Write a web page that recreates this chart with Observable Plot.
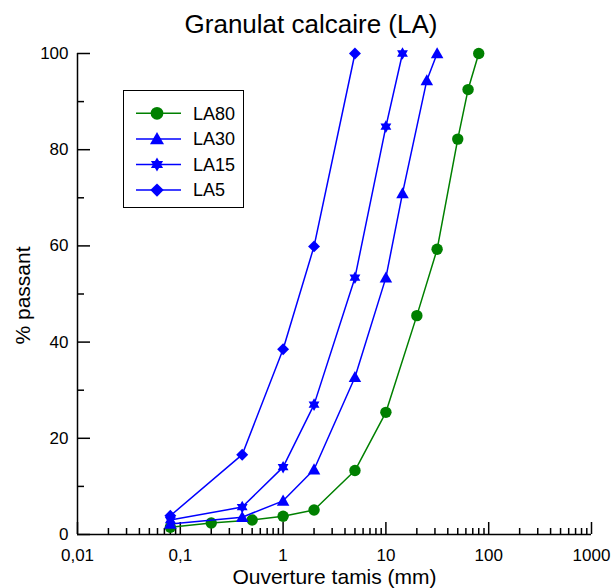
<!DOCTYPE html>
<html><head><meta charset="utf-8">
<script src="https://cdn.jsdelivr.net/npm/d3@7"></script>
<script src="https://cdn.jsdelivr.net/npm/@observablehq/plot@0.6"></script>
<style>
body{margin:0;background:#fff;}
#wrap{position:relative;width:613px;height:588px;}
#legend{position:absolute;left:123px;top:90px;}
</style></head><body><div id="wrap"></div>
<script>
const chartTitle = "Granulat calcaire (LA)";
const xLabel = "Ouverture tamis (mm)";
const yLabel = "% passant";
const seriesNames = ["LA80", "LA30", "LA15", "LA5"];
const seriesColors = ["#008000", "#0000ff", "#0000ff", "#0000ff"];
const la80Sieve = [0.08, 0.2, 0.5, 1, 2, 5, 10, 20, 31.5, 50, 63, 80];
const la80Pass  = [1.5, 2.4, 3.0, 3.8, 5.1, 13.3, 25.4, 45.5, 59.3, 82.2, 92.5, 100];
const la30Sieve = [0.08, 0.4, 1, 2, 5, 10, 14.5, 25, 31.5];
const la30Pass  = [2.2, 3.6, 7.0, 13.5, 32.7, 53.4, 70.9, 94.4, 100];
const la15Sieve = [0.08, 0.4, 1, 2, 5, 10, 14.5];
const la15Pass  = [3.0, 5.7, 14.0, 27.0, 53.4, 84.8, 100];
const la5Sieve  = [0.08, 0.4, 1, 2, 5];
const la5Pass   = [3.9, 16.6, 38.5, 59.9, 100];
const xMajorTicks = [0.01, 0.1, 1, 10, 100, 1000];
const yMajorTicks = [0, 20, 40, 60, 80, 100];
const yMinorTicks = [10, 30, 50, 70, 90];

const xMinorTicks = xMajorTicks.slice(0, -1).flatMap(d => d3.range(2, 10).map(k => +(k * d).toPrecision(3)));
const sieves = [la80Sieve, la30Sieve, la15Sieve, la5Sieve];
const passes = [la80Pass, la30Pass, la15Pass, la5Pass];
const rows = seriesNames.flatMap((s, i) => sieves[i].map((x, j) => ({series: s, sieve: x, pass: passes[i][j]})));

const rad = s => Math.sqrt(s / Math.PI);
const symCircle = {draw(c, s) { const r = rad(s); c.moveTo(r, 0); c.arc(0, 0, r, 0, 2 * Math.PI); }};
const symTriangle = {draw(c, s) { const r = rad(s); c.moveTo(0, -r * 1.1); c.lineTo(r * 1.1, r * 0.85); c.lineTo(-r * 1.1, r * 0.85); c.closePath(); }};
const symHexagram = {draw(c, s) { const R = rad(s) * 1.1, a = R * 0.866, b = R * 0.5;
  c.moveTo(0, -R); c.lineTo(a, b); c.lineTo(-a, b); c.closePath();
  c.moveTo(0, R); c.lineTo(-a, -b); c.lineTo(a, -b); c.closePath(); }};
const symDiamond = {draw(c, s) { const d = rad(s) * 1.05; c.moveTo(0, -d); c.lineTo(d, 0); c.lineTo(0, d); c.lineTo(-d, 0); c.closePath(); }};
const seriesSymbols = [symCircle, symTriangle, symHexagram, symDiamond];
const R = 5.7;

const dataMarks = seriesNames.flatMap((name, i) => [
  Plot.line(rows, {filter: d => d.series === name, x: "sieve", y: "pass", stroke: seriesColors[i], strokeWidth: 1.5}),
  Plot.dot(rows, {filter: d => d.series === name, x: "sieve", y: "pass", fill: seriesColors[i], stroke: "none", r: R, symbol: seriesSymbols[i]})
]);

const chart = Plot.plot({
  width: 613, height: 588,
  marginTop: 53, marginRight: 22, marginBottom: 54, marginLeft: 77,
  style: {fontFamily: "'Liberation Sans', Arial, sans-serif", fontSize: "17px", background: "white", color: "black"},
  x: {type: "log", domain: [0.01, 1000]},
  y: {domain: [0, 100]},
  marks: [
    Plot.axisX({ticks: xMajorTicks, tickSize: -12, fill: "none", strokeWidth: 1.5, label: null}),
    Plot.axisX({ticks: xMinorTicks, tickSize: -6, fill: "none", strokeWidth: 1.5, label: null}),
    Plot.axisX({ticks: xMajorTicks, tickSize: 0, tickPadding: 14, stroke: "none", label: null, tickFormat: d => String(d).replace(".", ",")}),
    Plot.axisY({ticks: yMajorTicks, tickSize: -13, fill: "none", strokeWidth: 1.5, label: null}),
    Plot.axisY({ticks: yMinorTicks, tickSize: -7, fill: "none", strokeWidth: 1.5, label: null}),
    Plot.axisY({ticks: yMajorTicks, tickSize: 0, tickPadding: 9, stroke: "none", label: null}),
    Plot.ruleY([0], {strokeWidth: 1.5}),
    Plot.ruleX([0.01], {strokeWidth: 1.5}),
    ...dataMarks,
    Plot.text([chartTitle], {frameAnchor: "top", textAnchor: "middle", fontSize: 26, lineAnchor: "middle", dx: -23.5, dy: -29.3}),
    Plot.text([xLabel], {frameAnchor: "bottom", textAnchor: "middle", fontSize: 21, lineAnchor: "middle", dy: 42.3}),
    Plot.text([yLabel], {frameAnchor: "left", textAnchor: "middle", fontSize: 21, lineAnchor: "middle", rotate: -90, dx: -54.7, dy: 1.5})
  ]
});
const wrap = document.getElementById("wrap");
wrap.appendChild(chart);

// legend
const lw = 121, lh = 118;
const leg = d3.select(wrap).append("svg").attr("id", "legend").attr("width", lw).attr("height", lh)
  .style("font-family", "'Liberation Sans', Arial, sans-serif").style("font-size", "18px");
leg.append("rect").attr("x", 0.5).attr("y", 0.5).attr("width", lw - 1).attr("height", lh - 1)
  .attr("fill", "white").attr("stroke", "black").attr("stroke-width", 1);
seriesNames.forEach((name, i) => {
  const y = 23.3 + i * 25.6;
  const g = leg.append("g").attr("transform", `translate(0,${y})`);
  g.append("line").attr("x1", 13).attr("x2", 58).attr("y1", 0).attr("y2", 0).attr("stroke", seriesColors[i]).attr("stroke-width", 1.5);
  const p = d3.path(); seriesSymbols[i].draw(p, Math.PI * R * R * 1.25);
  g.append("path").attr("d", p.toString()).attr("transform", "translate(34,0)").attr("fill", seriesColors[i]);
  g.append("text").attr("x", 70).attr("dy", "0.35em").text(name);
});
</script></body></html>
